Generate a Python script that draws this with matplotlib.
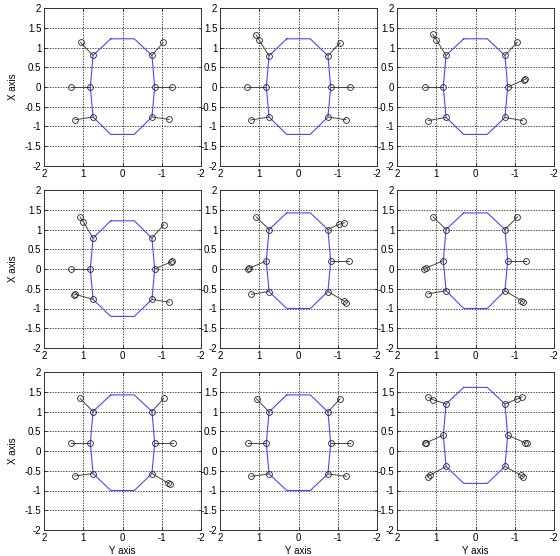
import numpy as np
import matplotlib.pyplot as plt

# body outline: height of the front / rear edges for each frame
body_top = [1.22, 1.22, 1.22, 1.22, 1.42, 1.42, 1.42, 1.42, 1.61]
body_bottom = [-1.2, -1.2, -1.2, -1.2, -1.0, -1.0, -1.0, -1.0, -0.82]
body_half_width = 0.3

# hip X positions (front, middle, rear) per frame
hip_x = [
    [0.80, 0.0, -0.76],
    [0.79, 0.0, -0.76],
    [0.80, 0.0, -0.77],
    [0.78, 0.0, -0.77],
    [1.00, 0.20, -0.57],
    [1.00, 0.21, -0.55],
    [1.00, 0.20, -0.57],
    [0.99, 0.20, -0.58],
    [1.19, 0.40, -0.39],
]
# hip lateral offsets (front, middle, rear)
hip_y = [0.75, 0.82, 0.75]

# joints beyond the hip for each leg, as (Y, X)
# leg order: LF, LM, LR, RF, RM, RR
legs = [
    [[(1.07, 1.13)], [(1.30, 0.0)], [(1.21, -0.83)],
     [(-1.04, 1.13)], [(-1.27, 0.0)], [(-1.19, -0.82)]],
    [[(1.01, 1.20), (1.08, 1.32)], [(1.30, 0.0)], [(1.22, -0.835)],
     [(-1.06, 1.12)], [(-1.30, 0.0)], [(-1.21, -0.83)]],
    [[(1.00, 1.20), (1.09, 1.33)], [(1.29, 0.0)], [(1.20, -0.85)],
     [(-1.06, 1.13)], [(-1.23, 0.18), (-1.27, 0.20)], [(-1.20, -0.85)]],
    [[(1.00, 1.20), (1.08, 1.31)], [(1.30, 0.0)], [(1.21, -0.64), (1.23, -0.65)],
     [(-1.05, 1.12)], [(-1.24, 0.18), (-1.27, 0.20)], [(-1.19, -0.84)]],
    [[(1.08, 1.32)], [(1.26, 0.02), (1.29, 0.0)], [(1.20, -0.64)],
     [(-1.03, 1.13), (-1.17, 1.17)], [(-1.29, 0.20)], [(-1.16, -0.81), (-1.20, -0.85)]],
    [[(1.08, 1.32)], [(1.27, 0.02), (1.30, 0.0)], [(1.21, -0.63)],
     [(-1.07, 1.32)], [(-1.29, 0.21)], [(-1.17, -0.80), (-1.21, -0.84)]],
    [[(1.08, 1.33)], [(1.31, 0.20)], [(1.21, -0.63)],
     [(-1.05, 1.33)], [(-1.28, 0.20)], [(-1.16, -0.81), (-1.20, -0.84)]],
    [[(1.07, 1.32)], [(1.29, 0.20)], [(1.21, -0.64)],
     [(-1.06, 1.32)], [(-1.30, 0.20)], [(-1.22, -0.64)]],
    [[(1.09, 1.30), (1.20, 1.36)], [(1.26, 0.21), (1.29, 0.19)], [(1.17, -0.62), (1.21, -0.65)],
     [(-1.07, 1.32), (-1.19, 1.37)], [(-1.26, 0.21), (-1.30, 0.19)], [(-1.17, -0.62), (-1.21, -0.65)]],
]

x_ticks = [-2, -1, 0, 1, 2]
y_ticks = [-2, -1.5, -1, -0.5, 0, 0.5, 1, 1.5, 2]

W, H = 560, 556
col_left = [44, 220, 397]
row_top = [8, 190, 372]
ax_w, ax_h = 157, 158

fig = plt.figure(figsize=(W / 100, H / 100), dpi=100)
plt.rcParams['font.family'] = ['Liberation Sans', 'DejaVu Sans']

for k in range(9):
    r, c = divmod(k, 3)
    ax = fig.add_axes([col_left[c] / W, 1 - (row_top[r] + ax_h) / H, ax_w / W, ax_h / H])

    hx = hip_x[k]
    hips = [(hip_y[0], hx[0]), (hip_y[1], hx[1]), (hip_y[2], hx[2]),
            (-hip_y[0], hx[0]), (-hip_y[1], hx[1]), (-hip_y[2], hx[2])]

    # body outline through the hips
    outline = [(body_half_width, body_top[k]), hips[0], hips[1], hips[2],
               (body_half_width, body_bottom[k]), (-body_half_width, body_bottom[k]),
               hips[5], hips[4], hips[3], (-body_half_width, body_top[k]),
               (body_half_width, body_top[k])]
    oy, ox = zip(*outline)
    ax.plot(oy, ox, color='#4848ff', lw=0.8, zorder=2)

    # legs
    for hip, joints in zip(hips, legs[k]):
        pts = [hip] + joints
        py, px = zip(*pts)
        ax.plot(py, px, color='#444444', lw=0.7, marker='o', ms=4.2,
                mfc='none', mec='#222222', mew=0.6, zorder=3)

    ax.set_xlim(2, -2)
    ax.set_ylim(-2, 2)
    ax.set_xticks(x_ticks)
    ax.set_yticks(y_ticks)
    ax.set_xticklabels([f'{t:g}' for t in x_ticks])
    ax.set_yticklabels([f'{t:g}' for t in y_ticks])
    ax.grid(True, color='#222222', linestyle=(0, (1.6, 1.6)), linewidth=0.6)
    ax.tick_params(direction='in', length=2.5, width=0.5, labelsize=7, pad=2,
                   top=True, right=True)
    for s in ax.spines.values():
        s.set_linewidth(0.7)
        s.set_color('#333333')
    if c == 0:
        ax.set_ylabel('X axis', fontsize=7, labelpad=5)
    if r == 2:
        ax.set_xlabel('Y axis', fontsize=7, labelpad=2)

fig.savefig('out.png', dpi=100)
